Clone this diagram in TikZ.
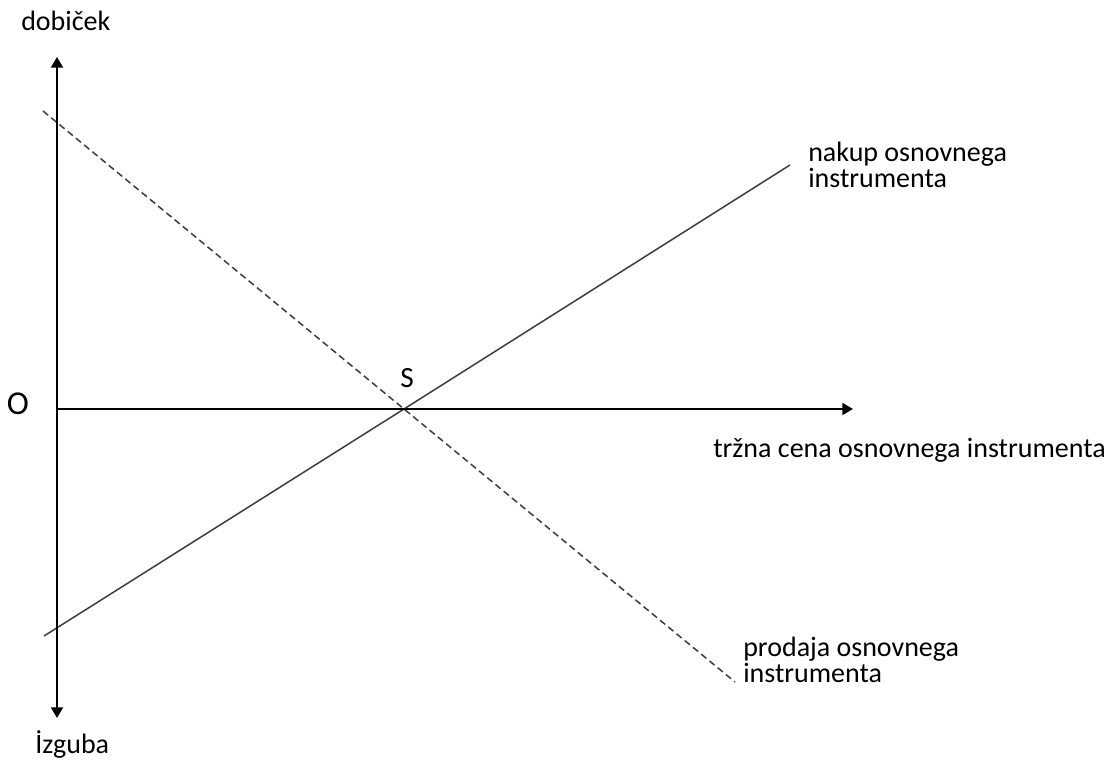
\documentclass[tikz,border=0pt]{standalone}
\usepackage{fontspec}
\setmainfont{Carlito}
\usetikzlibrary{arrows.meta}
\tikzset{
	os/.style={line width=1.5pt,-{Triangle[length=8pt,width=9pt]}},
	premica/.style={line width=1.15pt,black!75},
	napis/.style={font=\fontsize{21}{19.5}\selectfont,inner sep=0pt,align=left}
}
\begin{document}
\begin{tikzpicture}[x=0.75pt,y=-0.75pt]
		\useasboundingbox(0,0)rectangle(1115,762);
		\coordinate(o)at(57,409);
		\coordinate(yg)at(57,57);
		\coordinate(yd)at(57,718);
		\coordinate(xd)at(853,409);
		\coordinate(s)at(404,409);
		\coordinate(n1)at(44,636);
		\coordinate(n2)at(790,165);
		\coordinate(p1)at(43,111);
		\coordinate(p2)at(735,682);
		\draw[premica](n1)--(s)--(n2);
		\draw[premica,dash pattern=on 5pt off 3pt](p1)--(s)--(p2);
		\draw[os](o)--(yg);
		\draw[os](o)--(yd);
		\draw[os](o)--(xd);
		\node[napis,anchor=base west](dobicek)at(21,31){dobiček};
		\node[napis,anchor=base west](izguba)at(35,754){İzguba};
		\node[napis,anchor=base,font=\fontsize{25}{25}\selectfont](nic)at(18,415){O};
		\node[napis,anchor=base,font=\fontsize{22}{22}\selectfont](sl)at(407,388){S};
		\node[napis,anchor=base west](cena)at(713,458){tržna cena osnovnega instrumenta};
		% pri vecvrsticnem napisu je base zadnja vrstica
		\node[napis,anchor=base west](nakup)at(808,188){nakup osnovnega\\instrumenta};
		\node[napis,anchor=base west](prodaja)at(743,683){prodaja osnovnega\\instrumenta};
	\end{tikzpicture}
\end{document}
